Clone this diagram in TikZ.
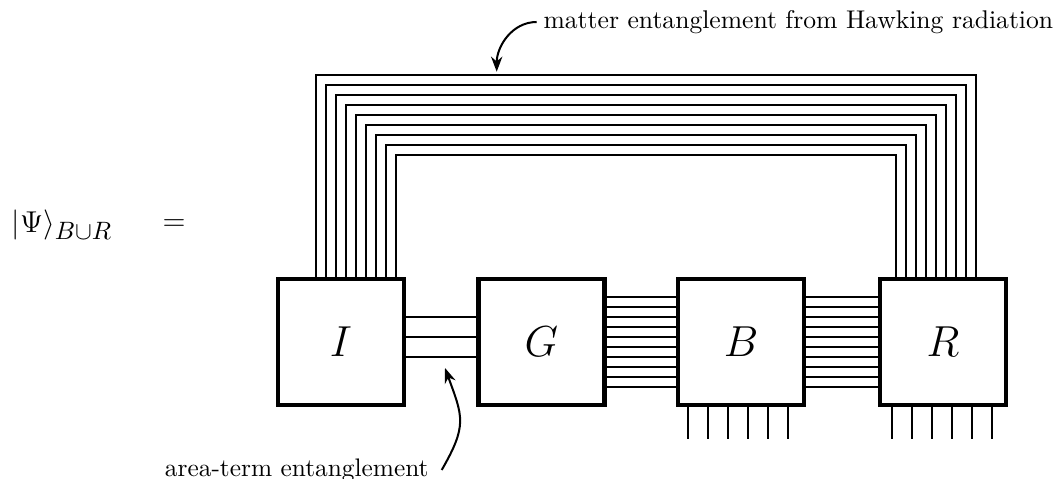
\documentclass[tikz,border=0pt]{standalone}
\usetikzlibrary{arrows.meta,calc}
\DeclareMathSizes{12}{12}{10}{7}
\begin{document}
\begin{tikzpicture}[x=.14cm,y=.14cm,
  tensor/.style={draw,line width=1.6pt,minimum size=1.764cm,inner sep=0pt,font=\LARGE},
  wire/.style={thick},
  pointer/.style={thick,-{Stealth[length=6pt,width=4.5pt]}}]
\useasboundingbox(0,0)rectangle(105.8,47.9);
\def\h{13.7}
% the four blocks
\node[tensor](I)at(34.1,\h){$I$};
\node[tensor](G)at(54.15,\h){$G$};
\node[tensor](B)at(74.1,\h){$B$};
\node[tensor](R)at(94.3,\h){$R$};
\node[anchor=west,font=\large](psi)at(0.3,25.4){$|\Psi\rangle_{B\cup R}$};
\node[font=\large](eq)at(17.4,25.4){$=$};
% legs between the blocks
\foreach\d in{2.5,.5,-1.5}\draw[wire]($(I.east)+(0,\d)$)--($(G.west)+(0,\d)$);
\foreach\d in{-4.5,-3.5,...,4.5}{
\draw[wire]($(G.east)+(0,\d)$)--($(B.west)+(0,\d)$);
\draw[wire]($(B.east)+(0,\d)$)--($(R.west)+(0,\d)$);}
\foreach\k in{0,...,8}\draw[wire]($(I.north)+(\k-2.5,0)$)|-($(R.north)+(3.3-\k,20.2-\k)$)--($(R.north)+(3.3-\k,0)$);
% open legs
\foreach\j in{0,...,5}{
\draw[wire]($(B.south)+(2*\j-5.3,0)$)--++(0,-3.2);
\draw[wire]($(R.south)+(2*\j-5.1,0)$)--++(0,-3.2);}
% labels
\node[anchor=west,inner sep=2.5pt,scale=1.02](hawk)at(53.67,45.7){matter entanglement from Hawking radiation};
\coordinate(hawktip)at(49.67,40.73);
\draw[pointer](hawk.west)to[out=180,in=90](hawktip);
\node[anchor=east,inner xsep=5pt,scale=1.01](area)at(44.17,0.9){area-term entanglement};
\coordinate(areatip)at(44.5,11.1);
\draw[pointer](area.east)to[out=60,in=-70,looseness=1.3](areatip);
\end{tikzpicture}
\end{document}
